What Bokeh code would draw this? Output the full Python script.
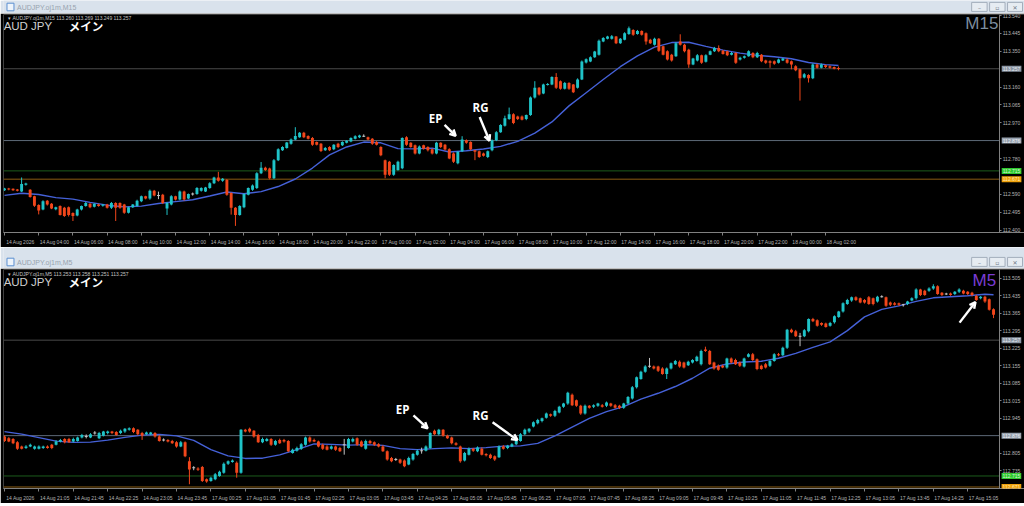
from bokeh.plotting import figure
from bokeh.layouts import column
from bokeh.models import (Range1d, FixedTicker, PrintfTickFormatter, Label,
                          Arrow, OpenHead, ColumnDataSource)
from bokeh.embed import file_html
from bokeh.resources import INLINE
from bokeh.core.properties import value

# ---------------- M15 panel data (bar index 0 = 14 Aug 02:00) ----------------
m15_open = [
 112.612,112.622,112.620,112.616,112.606,112.642,112.615,112.580,112.534,112.510,
 112.557,112.540,112.512,112.528,112.519,112.522,112.492,112.478,112.510,112.528,
 112.540,112.525,112.536,112.530,112.536,112.519,112.545,112.545,112.536,112.493,
 112.522,112.528,112.554,112.580,112.568,112.610,112.585,112.589,112.516,112.536,
 112.580,112.563,112.606,112.568,112.592,112.592,112.610,112.606,112.624,112.650,
 112.680,112.662,112.667,112.598,112.519,112.481,112.522,112.589,112.615,112.624,
 112.702,112.732,112.728,112.676,112.772,112.824,112.837,112.859,112.882,112.894,
 112.917,112.900,112.889,112.868,112.859,112.824,112.842,112.830,112.859,112.851,
 112.864,112.871,112.885,112.894,112.899,112.894,112.885,112.868,112.842,112.772,
 112.763,112.694,112.720,112.729,112.894,112.864,112.851,112.807,112.851,112.842,
 112.830,112.807,112.864,112.854,112.830,112.807,112.755,112.819,112.877,112.868,
 112.824,112.819,112.807,112.789,112.824,112.877,112.920,112.955,112.990,113.016,
 113.004,113.004,112.990,113.011,113.104,113.156,113.126,113.173,113.173,113.213,
 113.191,113.151,113.182,113.173,113.156,113.200,113.290,113.296,113.318,113.331,
 113.402,113.416,113.416,113.428,113.393,113.411,113.441,113.463,113.441,113.458,
 113.446,113.411,113.385,113.416,113.376,113.350,113.332,113.324,113.402,113.385,
 113.358,113.280,113.301,113.329,113.294,113.332,113.350,113.367,113.353,113.350,
 113.332,113.341,113.306,113.315,113.324,113.341,113.318,113.332,113.301,113.297,
 113.297,113.289,113.301,113.306,113.297,113.271,113.254,113.210,113.224,113.207,
 113.280,113.262,113.275,113.271,113.266,113.260]
m15_close = [
 112.622,112.616,112.612,112.610,112.645,112.648,112.577,112.530,112.505,112.554,
 112.536,112.516,112.522,112.481,112.476,112.481,112.476,112.510,112.528,112.545,
 112.522,112.540,112.528,112.536,112.519,112.545,112.519,112.519,112.493,112.522,
 112.536,112.557,112.580,112.568,112.610,112.585,112.585,112.545,112.545,112.580,
 112.563,112.606,112.563,112.592,112.592,112.624,112.624,112.627,112.650,112.680,
 112.662,112.673,112.589,112.519,112.481,112.528,112.592,112.624,112.638,112.702,
 112.732,112.720,112.676,112.772,112.830,112.842,112.865,112.882,112.900,112.917,
 112.894,112.886,112.854,112.854,112.820,112.837,112.824,112.854,112.842,112.868,
 112.875,112.889,112.899,112.903,112.899,112.882,112.859,112.854,112.798,112.694,
 112.694,112.746,112.763,112.889,112.854,112.842,112.807,112.845,112.833,112.824,
 112.807,112.864,112.842,112.828,112.781,112.763,112.816,112.882,112.864,112.830,
 112.816,112.789,112.795,112.819,112.877,112.920,112.959,112.994,113.016,112.969,
 112.990,112.987,113.011,113.104,113.156,113.121,113.173,113.175,113.213,113.156,
 113.151,113.182,113.151,113.133,113.200,113.296,113.308,113.318,113.348,113.406,
 113.420,113.428,113.430,113.393,113.416,113.446,113.472,113.437,113.458,113.437,
 113.402,113.393,113.416,113.353,113.332,113.306,113.301,113.393,113.385,113.350,
 113.280,113.311,113.329,113.289,113.329,113.350,113.367,113.350,113.336,113.329,
 113.341,113.289,113.315,113.324,113.350,113.318,113.341,113.297,113.289,113.289,
 113.283,113.306,113.311,113.289,113.280,113.249,113.207,113.228,113.207,113.280,
 113.262,113.280,113.266,113.262,113.257,113.257]
# upper / lower shadow lengths in points (0.001)
m15_wick_up = [
 3,3,2,3,35,4,3,3,4,5, 3,4,3,4,5,4,3,4,3,5, 4,3,5,3,4,5,4,3,4,3, 3,5,4,3,6,4,20,4,5,6,
 3,5,4,3,8,5,4,3,5,4, 30,4,5,3,4,5,4,3,5,6, 30,5,4,6,5,4,3,5,47,4, 5,4,6,3,4,5,4,3,5,4,
 3,4,5,4,10,3,4,5,4,3, 5,4,6,4,5,3,4,5,3,4, 4,5,3,4,5,6,4,17,5,4, 3,4,5,4,5,6,4,14,35,5,
 4,5,3,6,35,4,5,6,4,21, 4,5,4,3,6,5,4,5,4,6, 5,4,6,3,4,5,9,4,5,3, 4,5,6,4,3,5,4,6,38,4,
 5,4,6,3,5,4,6,14,4,3, 5,4,6,3,5,4,6,3,4,5, 4,5,3,6,4,5,4,6,4,5, 4,5,3,4,3,9]
m15_wick_dn = [
 3,4,3,4,3,5,4,6,21,4, 5,4,6,3,5,8,27,4,5,3, 5,4,3,5,4,6,70,5,6,4, 4,3,5,4,6,5,20,6,35,4,
 5,4,6,3,8,4,5,3,4,5, 4,5,6,36,58,4,5,4,6,5, 4,5,6,4,5,3,4,5,4,3, 5,4,6,4,5,3,4,5,6,4,
 3,4,3,5,4,5,6,4,5,18, 6,5,4,5,6,4,5,4,5,6, 5,4,6,5,4,6,5,4,5,6, 44,5,4,6,5,4,3,5,4,6,
 5,4,6,4,5,6,4,5,3,6, 5,4,6,5,4,3,5,4,3,4, 4,3,4,5,4,3,4,5,3,4, 17,4,5,6,4,5,6,4,5,6,
 18,4,5,6,4,3,4,5,4,5, 4,6,5,4,3,5,4,5,6,27, 5,4,3,5,26,5,119,4,23,5, 4,3,5,4,3,8]
# moving average, read every 4 bars (+ last bar)
m15_ma_idx = list(range(0, 193, 4)) + [195]
m15_ma = [
 112.585,112.596,112.590,112.573,112.565,112.548,112.533,112.524,112.528,112.542,
 112.552,112.562,112.582,112.603,112.594,112.605,112.632,112.672,112.730,112.800,
 112.842,112.868,112.864,112.833,112.832,112.836,112.815,112.822,112.831,112.845,
 112.872,112.915,112.975,113.060,113.130,113.200,113.268,113.325,113.372,113.396,
 113.398,113.376,113.356,113.340,113.328,113.321,113.310,113.290,113.279,113.274]
m15_time_ticks = list(range(0, 193, 8))
m15_time_labels = ["14 Aug 2026","14 Aug 04:00","14 Aug 06:00","14 Aug 08:00","14 Aug 10:00",
 "14 Aug 12:00","14 Aug 14:00","14 Aug 16:00","14 Aug 18:00","14 Aug 20:00","14 Aug 22:00",
 "17 Aug 00:00","17 Aug 02:00","17 Aug 04:00","17 Aug 06:00","17 Aug 08:00","17 Aug 10:00",
 "17 Aug 12:00","17 Aug 14:00","17 Aug 16:00","17 Aug 18:00","17 Aug 20:00","17 Aug 22:00",
 "18 Aug 00:00","18 Aug 02:00"]
m15_price_ticks = [113.540,113.445,113.350,113.160,113.065,112.970,112.780,112.590,112.495,112.400]

# ---------------- M5 panel data (bar index 0 = 14 Aug 20:25) ----------------
m5_open = [
 112.873,112.866,112.863,112.850,112.833,112.827,112.833,112.824,112.824,112.827,
 112.833,112.840,112.840,112.853,112.863,112.863,112.853,112.855,112.869,112.873,
 112.869,112.886,112.866,112.876,112.886,112.892,112.890,112.886,112.892,112.899,
 112.905,112.899,112.886,112.882,112.882,112.886,112.873,112.859,112.859,112.855,
 112.850,112.833,112.850,112.774,112.748,112.745,112.751,112.702,112.695,112.702,
 112.715,112.728,112.764,112.771,112.768,112.728,112.899,112.903,112.895,112.879,
 112.850,112.855,112.863,112.840,112.859,112.859,112.855,112.807,112.816,112.824,
 112.840,112.869,112.859,112.853,112.840,112.833,112.824,112.833,112.827,112.840,
 112.827,112.853,112.866,112.853,112.824,112.855,112.850,112.842,112.833,112.814,
 112.787,112.781,112.781,112.777,112.761,112.781,112.800,112.816,112.816,112.827,
 112.895,112.882,112.899,112.876,112.869,112.846,112.833,112.777,112.800,112.824,
 112.814,112.824,112.803,112.800,112.794,112.790,112.833,112.827,112.833,112.842,
 112.855,112.882,112.892,112.912,112.925,112.934,112.947,112.961,112.955,112.968,
 112.991,113.004,113.039,113.017,112.995,112.964,112.995,112.991,112.995,112.997,
 112.995,113.004,112.997,112.995,112.987,113.004,113.024,113.069,113.102,113.131,
 113.153,113.152,113.152,113.144,113.122,113.144,113.161,113.171,113.168,113.157,
 113.168,113.174,113.161,113.220,113.214,113.168,113.155,113.155,113.148,113.184,
 113.178,113.168,113.152,113.191,113.201,113.181,113.155,113.161,113.155,113.174,
 113.201,113.197,113.227,113.299,113.293,113.273,113.273,113.293,113.341,113.336,
 113.325,113.323,113.315,113.328,113.349,113.371,113.401,113.415,113.428,113.424,
 113.417,113.428,113.424,113.411,113.430,113.428,113.407,113.404,113.404,113.398,
 113.401,113.415,113.424,113.459,113.454,113.454,113.463,113.472,113.446,113.441,
 113.443,113.441,113.450,113.454,113.450,113.446,113.433,113.424,113.430,113.420,
 113.380]
m5_close = [
 112.855,112.853,112.846,112.824,112.824,112.833,112.840,112.833,112.833,112.833,
 112.827,112.827,112.853,112.859,112.850,112.850,112.863,112.869,112.879,112.873,
 112.882,112.886,112.886,112.892,112.892,112.886,112.879,112.895,112.903,112.905,
 112.890,112.882,112.876,112.888,112.888,112.873,112.855,112.859,112.853,112.846,
 112.833,112.850,112.794,112.741,112.748,112.740,112.695,112.693,112.708,112.722,
 112.732,112.764,112.774,112.777,112.728,112.899,112.892,112.892,112.873,112.850,
 112.863,112.863,112.840,112.855,112.846,112.853,112.814,112.820,112.827,112.842,
 112.869,112.853,112.853,112.833,112.824,112.820,112.833,112.820,112.814,112.840,
 112.863,112.863,112.840,112.833,112.855,112.846,112.840,112.833,112.814,112.781,
 112.774,112.781,112.768,112.754,112.787,112.803,112.816,112.816,112.833,112.886,
 112.882,112.899,112.876,112.866,112.846,112.840,112.774,112.807,112.824,112.816,
 112.829,112.800,112.798,112.787,112.781,112.833,112.824,112.836,112.842,112.855,
 112.882,112.899,112.903,112.929,112.938,112.945,112.964,112.955,112.974,112.991,
 113.004,113.047,112.997,112.995,112.964,112.995,112.987,112.997,113.004,112.991,
 113.008,112.995,112.987,112.987,113.004,113.030,113.069,113.109,113.131,113.152,
 113.153,113.144,113.135,113.122,113.144,113.165,113.174,113.152,113.148,113.171,
 113.178,113.191,113.214,113.214,113.161,113.144,113.139,113.148,113.184,113.168,
 113.161,113.155,113.184,113.201,113.178,113.142,113.142,113.148,113.174,113.201,
 113.197,113.227,113.299,113.289,113.273,113.273,113.297,113.341,113.332,113.315,
 113.319,113.310,113.325,113.352,113.371,113.404,113.417,113.428,113.417,113.407,
 113.407,113.401,113.401,113.430,113.430,113.394,113.398,113.398,113.398,113.398,
 113.411,113.424,113.459,113.437,113.437,113.463,113.472,113.441,113.437,113.441,
 113.437,113.450,113.459,113.443,113.441,113.437,113.417,113.430,113.411,113.378,
 113.358]
m5_wick_up = [
 3,4,3,4,3,5,4,3,4,3, 4,3,5,4,3,4,5,3,4,8, 4,8,5,3,4,3,4,5,3,4, 4,3,5,4,3,4,5,6,3,4,
 4,5,3,16,6,5,4,3,4,5, 4,5,3,4,5,3,4,5,3,4, 5,4,3,4,5,4,3,4,5,4, 3,4,5,3,4,5,4,3,4,23,
 4,5,3,4,5,4,3,4,5,3, 4,6,3,4,5,4,5,12,4,3, 5,4,3,4,3,4,3,4,5,3, 4,5,3,4,3,4,5,3,4,3,
 4,5,3,4,5,3,4,3,5,4, 3,4,5,3,4,5,3,4,3,5, 4,3,5,4,3,4,5,3,4,5, 33,4,3,5,4,3,4,5,3,4,
 3,4,5,11,4,3,5,4,3,4, 5,4,3,4,5,3,4,5,3,4, 5,4,3,4,5,13,4,3,5,4, 3,4,5,4,3,4,5,3,4,3,
 4,5,3,4,6,3,4,5,3,4, 3,4,5,3,4,5,8,4,3,5, 4,3,5,4,3,4,5,3,4,3, 4]
m5_wick_dn = [
 4,3,4,5,3,4,3,4,3,4, 3,5,3,4,5,3,4,3,4,8, 3,6,4,3,5,4,3,4,5,3, 4,5,17,3,4,5,3,6,4,3,
 5,3,4,59,10,5,4,5,3,4, 3,4,5,3,20,4,3,4,5,3, 4,3,5,4,3,5,4,3,4,5, 4,5,3,4,5,3,4,5,3,40,
 3,4,5,3,4,3,5,4,3,5, 4,6,5,4,3,5,4,12,3,4, 3,5,4,3,5,4,6,4,3,5, 4,3,5,4,6,3,4,5,3,4,
 3,4,5,3,4,5,3,4,5,3, 4,5,3,4,5,4,3,5,4,3, 5,4,3,5,4,3,4,5,3,4, 6,4,5,3,20,4,3,5,4,3,
 4,3,5,4,3,5,4,3,5,4, 3,5,4,3,4,5,3,4,5,3, 4,3,5,4,3,40,4,5,3,4, 5,3,4,5,3,4,3,5,4,3,
 4,3,5,4,3,4,5,3,4,7, 4,3,5,4,3,4,5,3,4,4, 3,4,5,3,4,5,3,4,5,3, 13]
m5_ma_idx = list(range(0, 229, 4)) + [230]
m5_ma = [
 112.892,112.882,112.868,112.854,112.849,112.850,112.858,112.869,112.878,112.881,
 112.875,112.857,112.820,112.795,112.785,112.786,112.799,112.820,112.843,112.841,
 112.838,112.840,112.837,112.824,112.820,112.824,112.827,112.824,112.828,112.834,
 112.835,112.845,112.875,112.910,112.945,112.972,112.992,113.022,113.045,113.072,
 113.105,113.145,113.162,113.170,113.173,113.185,113.204,113.228,113.250,113.295,
 113.350,113.380,113.394,113.412,113.426,113.430,113.434,113.440,113.438]
m5_time_ticks = list(range(0, 225, 8))
m5_time_labels = ["14 Aug 2026","14 Aug 21:05","14 Aug 21:45","14 Aug 22:25","14 Aug 23:05",
 "14 Aug 23:45","17 Aug 00:25","17 Aug 01:05","17 Aug 01:45","17 Aug 02:25","17 Aug 03:05",
 "17 Aug 03:45","17 Aug 04:25","17 Aug 05:05","17 Aug 05:45","17 Aug 06:25","17 Aug 07:05",
 "17 Aug 07:45","17 Aug 08:25","17 Aug 09:05","17 Aug 09:45","17 Aug 10:25","17 Aug 11:05",
 "17 Aug 11:45","17 Aug 12:25","17 Aug 13:05","17 Aug 13:45","17 Aug 14:25","17 Aug 15:05"]
m5_price_ticks = [113.505,113.435,113.365,113.295,113.225,113.155,113.085,113.015,112.945,112.805,112.735]

# horizontal levels drawn on both charts
levels = [113.257, 112.876, 112.715, 112.671]
level_line_colors = ["#4a4a4a", "#5d6977", "#1c5c1c", "#8a5c12"]
level_box_colors = ["#8a95a3", "#97a2af", "#2fc92f", "#f0a20c"]
level_text_colors = ["#e6ebf0", "#eef2f6", "#d4f7d4", "#fde6b0"]

# ---------------- styling ----------------
W = 1024
CYAN = "#1fc3c8"
RED = "#f2461b"
DOJI = "#c4c4c4"
MA_COL = "#4561d8"
BAR_BG = "#d9e2ec"
AX_COL = "#808080"
LBL_COL = "#b4b4b4"
FONT = "Liberation Sans"
LABEL_SHIFT = 3.7   # time labels sit to the right of their tick (in bars)


def titlebar(h, y_top, y_bot, title):
    f = figure(width=W, height=h, x_range=Range1d(0, 1024), y_range=Range1d(y_bot, y_top),
               output_backend="svg", toolbar_location=None, min_border=0,
               x_axis_location=None, y_axis_location=None,
               background_fill_color=BAR_BG, border_fill_color=BAR_BG, outline_line_color=None)
    f.grid.visible = False
    yc = y_bot - 6.5
    f.quad(left=[3.5], right=[10.5], top=[yc - 3.8], bottom=[yc + 3.8],
           fill_color="#eef4fb", line_color="#5b8fd0", line_width=1)
    f.text(x=[13.5], y=[yc], text=[title], text_font=value(FONT), text_font_size="7px",
           text_color="#98a3af", text_baseline="middle")
    bl = [971, 989, 1007]
    br = [986.5, 1004.5, 1022]
    f.quad(left=bl, right=br, top=[yc - 4.6] * 3, bottom=[yc + 4.4] * 3,
           fill_color="#e6ecf2", line_color="#a3aebb", line_width=1)
    f.text(x=[(a + b) / 2 for a, b in zip(bl, br)], y=[yc] * 3, text=["\u2013", "\u25ab", "\u2715"],
           text_font=value("DejaVu Sans"), text_font_size="6px", text_color="#707b87",
           text_align="center", text_baseline="middle")
    return f


def tabbar(h):
    f = figure(width=W, height=h, x_range=Range1d(0, 1024), y_range=Range1d(0, h),
               output_backend="svg", toolbar_location=None, min_border=0,
               x_axis_location=None, y_axis_location=None,
               background_fill_color="#c9d3de", border_fill_color="#c9d3de", outline_line_color=None)
    f.grid.visible = False
    f.quad(left=[64], right=[124], bottom=[0], top=[h], fill_color="#f4f6f8", line_color="#9aa6b3")
    return f


def chart(h, xr, scale_x, yr, O, C, WU, WD, ma_i, ma_v, tticks, tlabels, pticks, min_h, bottom_border):
    p = figure(width=W, height=h, x_range=Range1d(*xr), y_range=Range1d(*yr),
               output_backend="svg", toolbar_location=None, y_axis_location="right",
               background_fill_color="black", border_fill_color="black", outline_line_color=None,
               min_border_left=3, min_border_right=0, min_border_top=1,
               min_border_bottom=bottom_border)
    p.grid.visible = False
    # level lines up to the price scale
    p.segment(x0=[xr[0]] * len(levels), y0=levels, x1=[scale_x] * len(levels), y1=levels,
              line_color=level_line_colors, line_width=1)
    n = min(len(O), len(C), len(WU), len(WD))
    xs, top, bot, hi, lo, col = [], [], [], [], [], []
    for i in range(n):
        o, c = O[i], C[i]
        b, t = min(o, c), max(o, c)
        if t - b < min_h:
            m = (t + b) / 2
            b, t = m - min_h / 2, m + min_h / 2
        xs.append(i)
        top.append(t)
        bot.append(b)
        hi.append(max(o, c) + WU[i] / 1000.0)
        lo.append(min(o, c) - WD[i] / 1000.0)
        col.append(CYAN if c > o else (RED if c < o else DOJI))
    src = ColumnDataSource(dict(x=xs, top=top, bottom=bot, hi=hi, lo=lo, color=col))
    p.line(ma_i, ma_v, line_color=MA_COL, line_width=1.4)
    p.segment(x0="x", y0="hi", x1="x", y1="lo", line_color="color", line_width=1, source=src)
    p.vbar(x="x", width=0.68, top="top", bottom="bottom", fill_color="color",
           line_color=None, source=src)

    # price scale drawn at the right edge of the chart area
    ya = p.yaxis[0]
    ya.fixed_location = scale_x
    ya.ticker = FixedTicker(ticks=pticks)
    ya.formatter = PrintfTickFormatter(format="%.3f")
    ya.major_tick_line_color = AX_COL
    ya.minor_tick_line_color = None
    ya.major_tick_in = 0
    ya.major_tick_out = 2
    ya.major_label_standoff = 1
    # time scale: tick marks at bars, labels placed just right of them
    xa = p.xaxis[0]
    major = [t + LABEL_SHIFT for t in tticks]
    xa.ticker = FixedTicker(ticks=major, minor_ticks=list(tticks))
    xa.major_label_overrides = {m: s for m, s in zip(major, tlabels)}
    xa.major_tick_line_color = None
    xa.major_tick_in = 0
    xa.major_tick_out = 0
    xa.minor_tick_line_color = AX_COL
    xa.minor_tick_in = 0
    xa.minor_tick_out = 3
    xa.major_label_standoff = 3
    for ax in (xa, ya):
        ax.axis_line_color = AX_COL
        ax.major_label_text_font = FONT
        ax.major_label_text_font_size = "5px"
        ax.major_label_text_color = LBL_COL
    # boxed price labels on the price scale
    for lv, bg, tc in zip(levels, level_box_colors, level_text_colors):
        p.add_layout(Label(x=scale_x, y=lv, x_offset=2, text=f"{lv:.3f}", text_font=FONT,
                           text_font_size="5px", text_color=tc, background_fill_color=bg,
                           text_baseline="middle", text_align="left", padding=1))
    return p


def add_header(p, x0, y_small, y_big, x_jp, x_tf, y_tf, small_text, tf_text, tf_color):
    p.add_layout(Label(x=x0, y=y_small, text=small_text, text_font=FONT, text_font_size="5px",
                       text_color="#c4c4c4", text_baseline="middle"))
    p.add_layout(Label(x=x0 - 1.1, y=y_big, text="AUD JPY", text_font=FONT, text_font_size="11.5px",
                       text_color="#cfcfcf", text_baseline="middle"))
    p.add_layout(Label(x=x_jp, y=y_big, text="メイン", text_font="Noto Sans CJK JP",
                       text_font_style="bold", text_font_size="11.5px", text_color="white",
                       text_baseline="middle"))
    p.add_layout(Label(x=x_tf, y=y_tf, text=tf_text, text_font=FONT, text_font_size="17px",
                       text_color=tf_color, text_baseline="middle", text_align="right"))


def add_note(p, tx, ty, txt, ax0, ay0, ax1, ay1):
    if txt:
        p.add_layout(Label(x=tx, y=ty, text=txt, text_font="Open Sans", text_font_style="bold",
                           text_font_size="11.5px", text_color="white", text_align="center",
                           text_baseline="middle"))
    p.add_layout(Arrow(end=OpenHead(size=6, line_color="white", line_width=2.4),
                       x_start=ax0, y_start=ay0, x_end=ax1, y_end=ay1,
                       line_color="white", line_width=2.4))


tb1 = titlebar(13, 0, 13, "AUDJPY.oj1m,M15")
ch1 = chart(234, (-0.234, 238.5), 232.7, (112.388, 113.545), m15_open, m15_close, m15_wick_up,
            m15_wick_dn, m15_ma_idx, m15_ma, m15_time_ticks, m15_time_labels, m15_price_ticks,
            0.0053, 12)
add_header(ch1, 0.9, 113.527, 113.482, 15.0, 232.4, 113.497,
           "\u25be AUDJPY.oj1m,M15  113.260 113.269 113.249 113.257", "M15", "#7d8d9e")
add_note(ch1, 100.8, 112.995, "EP", 102.9, 112.959, 105.5, 112.901)
add_note(ch1, 111.3, 113.053, "RG", 111.1, 113.001, 113.4, 112.875)

tb2 = titlebar(21, 247, 268, "AUDJPY.oj1m,M5")
ch2 = chart(235, (-0.233, 237.2), 231.4, (112.665, 113.539), m5_open, m5_close, m5_wick_up,
            m5_wick_dn, m5_ma_idx, m5_ma, m5_time_ticks, m5_time_labels, m5_price_ticks,
            0.0040, 12)
add_header(ch2, 0.9, 113.522, 113.488, 14.9, 230.6, 113.494,
           "\u25be AUDJPY.oj1m,M5  113.253 113.258 113.251 113.257", "M5", "#7a3cd4")
add_note(ch2, 92.6, 112.982, "EP", 95.1, 112.957, 98.4, 112.905)
add_note(ch2, 110.7, 112.955, "RG", 113.5, 112.929, 119.3, 112.858)
add_note(ch2, 0, 0, "", 222.1, 113.327, 225.8, 113.409)
tb3 = tabbar(3)

layout = column(tb1, ch1, tb2, ch2, tb3)
open("out.html", "w").write(file_html(layout, INLINE))
